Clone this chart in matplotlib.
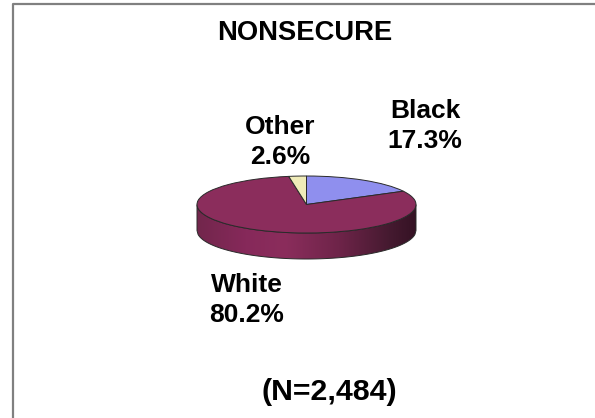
#!/usr/bin/env python3
"""Nonsecure pie chart, drawn as a tilted disc with a shaded side wall."""

import matplotlib

matplotlib.use("Agg")  # headless
import matplotlib.pyplot as plt
import numpy as np
from matplotlib.colors import LinearSegmentedColormap
from matplotlib.patches import Polygon

W, H = 595, 418

CATEGORIES = ["Black", "White", "Other"]
SHARES = [17.3, 80.2, 2.6]
COLORS = ["#8F8FEE", "#8B2D5C", "#EFEBB8"]
TITLE = "NONSECURE"
NOTE = "(N=2,484)"

plt.rcParams["font.family"] = ["Liberation Sans", "DejaVu Sans"]
plt.rcParams["font.weight"] = "bold"

fig = plt.figure(figsize=(W / 100, H / 100), dpi=100)

# axes spans the top ellipse plus the wall below it, squashed by the auto aspect
cx, cy, rx, ry, depth = 306.5, 204.5, 109.5, 28.5, 26
ax = fig.add_axes(
    [(cx - rx) / W, 1 - (cy + ry + depth) / H, 2 * rx / W, (2 * ry + depth) / H]
)
d = depth / ry
wedges, _ = ax.pie(
    SHARES,
    colors=COLORS,
    startangle=90,
    counterclock=False,
    radius=1,
    wedgeprops={"edgecolor": "#2a2a2a", "linewidth": 0.7, "zorder": 3},
)
for w in wedges:
    w.set_clip_on(False)

# side wall: horizontal gradient clipped to the lower rim of the disc
t = np.linspace(-1, 1, 200)
arc = -np.sqrt(1 - t**2)
outline = np.vstack(
    [np.column_stack([t, arc]), np.column_stack([t[::-1], arc[::-1] - d])]
)
wall_cmap = LinearSegmentedColormap.from_list(
    "wall",
    [
        (0.0, "#72264C"),
        (0.22, "#86295A"),
        (0.4, "#8B2D5C"),
        (0.65, "#6E2449"),
        (0.88, "#451A30"),
        (1.0, "#351224"),
    ],
)
wall = ax.imshow(
    np.linspace(0, 1, 256)[None, :],
    cmap=wall_cmap,
    extent=(-1, 1, -1 - d, 1),
    aspect="auto",
    zorder=1,
)
wall.set_clip_path(Polygon(outline, closed=True, transform=ax.transData))
ax.add_patch(
    Polygon(
        outline,
        closed=True,
        fill=False,
        edgecolor="#2a2a2a",
        linewidth=0.7,
        zorder=2,
        clip_on=False,
    )
)
ax.set_aspect("auto")
ax.set_xlim(-1, 1)
ax.set_ylim(-1 - d, 1)
ax.axis("off")

# overlay axes in pixel coordinates for frame and text
ov = fig.add_axes([0, 0, 1, 1], zorder=5)
ov.set_xlim(0, W)
ov.set_ylim(H, 0)
ov.axis("off")
ov.plot([12.5, 12.5, W], [H, 4, 4], color="#808080", linewidth=1.6)

ov.text(304.5, 33, TITLE, ha="center", va="center", fontsize=19.7)
ov.text(329, 392, NOTE, ha="center", va="center", fontsize=21.8)
label_xy = [(425, 126), (247, 300), (280, 142)]
for name, share, (x, y) in zip(CATEGORIES, SHARES, label_xy):
    ov.text(x, y, f"{name}\n{share}%", ha="center", va="center", fontsize=19,
            linespacing=1.32)

fig.savefig("out.png", dpi=100)
plt.close(fig)
